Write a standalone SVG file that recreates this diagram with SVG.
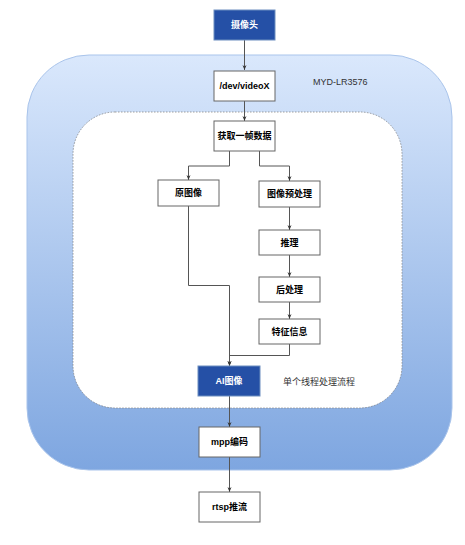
<svg xmlns="http://www.w3.org/2000/svg" width="465" height="545" viewBox="0 0 465 545">
<defs>
<linearGradient id="g" x1="0" y1="0" x2="0" y2="1">
<stop offset="0" stop-color="#dae8fc"/>
<stop offset="1" stop-color="#7ea6e0"/>
</linearGradient>
<marker id="a" viewBox="0 0 10 10" refX="10" refY="5" markerWidth="5" markerHeight="5" orient="auto" markerUnits="userSpaceOnUse">
<path d="M0,1 L10,5 L0,9 L3,5 Z" fill="#333"/>
</marker>
</defs>
<style>
.box{fill:#fff;stroke:#666;stroke-width:1}
.dark{fill:#2550a6;stroke:#6c8ebf;stroke-width:1}
.t{font-family:"Liberation Sans","Noto Sans CJK SC",sans-serif;font-size:9px;font-weight:bold;fill:#000;text-anchor:middle;dominant-baseline:central}
.w{fill:#fff}
.lbl{font-family:"Liberation Sans","Noto Sans CJK SC",sans-serif;font-size:9px;fill:#333;dominant-baseline:central}
.c{fill:none;stroke:#555;stroke-width:1;marker-end:url(#a)}
</style>
<rect id="outer" x="27" y="55" width="425" height="415" rx="62" ry="62" fill="url(#g)" stroke="#a9c4eb" stroke-width="1"/>
<text class="lbl" x="313" y="82">MYD-LR3576</text>
<rect id="inner" x="73" y="112" width="329" height="296" rx="42" ry="42" fill="#fff" stroke="#888" stroke-width="0.8" stroke-dasharray="1.5,1.5"/>
<text class="lbl" x="283" y="382">单个线程处理流程</text>
<g id="connectors">
<path class="c" d="M244.5,40 V70"/>
<path class="c" d="M244.5,101 V121"/>
<path class="c" d="M229.5,151 V166 H188.5 V180"/>
<path class="c" d="M259.5,151 V166 H289.5 V181"/>
<path class="c" d="M289.5,207 V230"/>
<path class="c" d="M289.5,255 V277"/>
<path class="c" d="M289.5,302 V319"/>
<path class="c" d="M188.5,206 V285.5 H229.5 V366"/>
<path class="c" d="M289.5,344 V355.5 H229.5 V366"/>
<path class="c" d="M229.5,396 V427"/>
<path class="c" d="M229.5,457 V492"/>
</g>
<g id="camera"><rect class="dark" x="214" y="10" width="61" height="30"/><text class="t w" x="244.5" y="25">摄像头</text></g>
<g id="video"><rect class="box" x="214" y="71" width="61" height="30"/><text class="t" x="244.5" y="86">/dev/videoX</text></g>
<g id="grab"><rect class="box" x="214" y="121" width="61" height="30"/><text class="t" x="244.5" y="136">获取一帧数据</text></g>
<g id="raw"><rect class="box" x="158" y="180" width="61" height="26"/><text class="t" x="188.5" y="193">原图像</text></g>
<g id="pre"><rect class="box" x="259" y="181" width="61" height="26"/><text class="t" x="289.5" y="194">图像预处理</text></g>
<g id="infer"><rect class="box" x="259" y="230" width="61" height="25"/><text class="t" x="289.5" y="242.5">推理</text></g>
<g id="post"><rect class="box" x="259" y="277" width="61" height="25"/><text class="t" x="289.5" y="289.5">后处理</text></g>
<g id="feat"><rect class="box" x="259" y="319" width="61" height="25"/><text class="t" x="289.5" y="331.5">特征信息</text></g>
<g id="ai"><rect class="dark" x="198" y="366" width="62" height="30"/><text class="t w" x="229" y="381">AI图像</text></g>
<g id="mpp"><rect class="box" x="199" y="427" width="61" height="30"/><text class="t" x="229.5" y="442">mpp编码</text></g>
<g id="rtsp"><rect class="box" x="199" y="492" width="61" height="30"/><text class="t" x="229.5" y="507">rtsp推流</text></g>
</svg>
